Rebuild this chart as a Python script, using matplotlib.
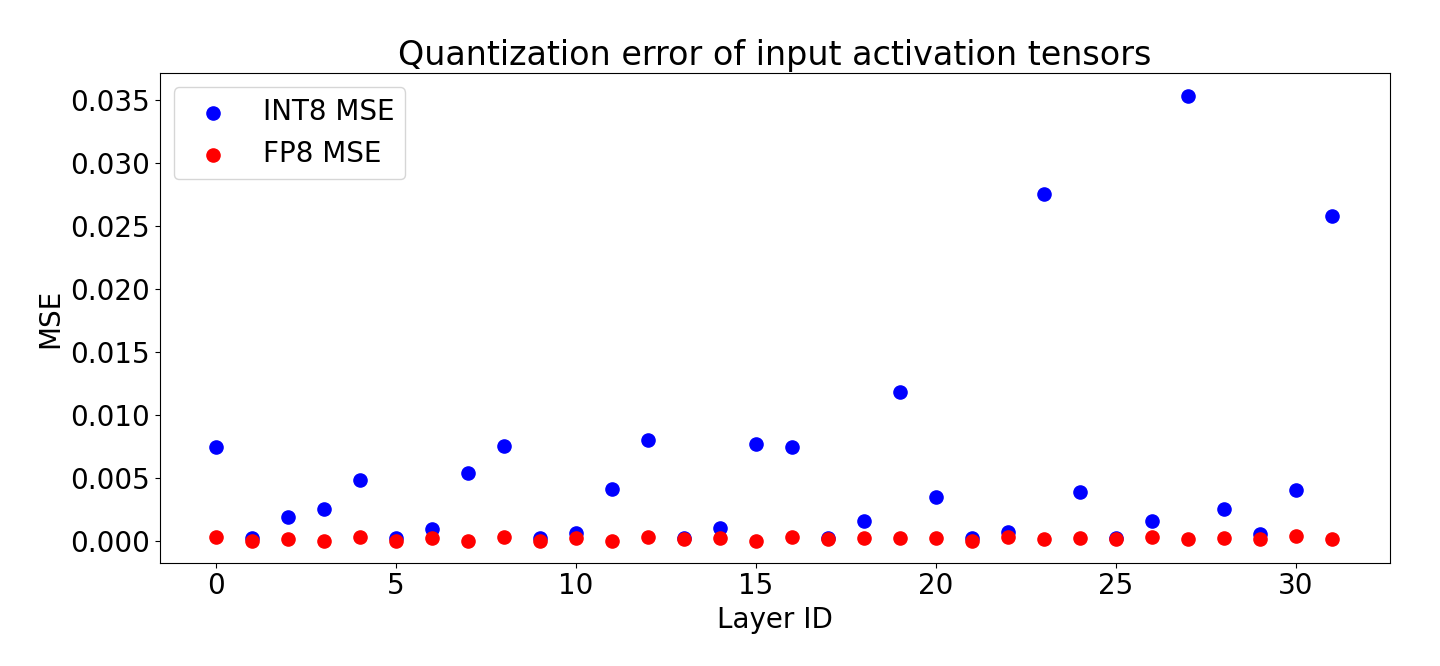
import numpy as np
import matplotlib
matplotlib.use('Agg')
import matplotlib.pyplot as plt

layer_ids = list(range(32))
int8_mse = [0.0074, 0.0002, 0.0019, 0.0025, 0.0048, 0.0002, 0.0009, 0.0054,
            0.0075, 0.0002, 0.0006, 0.0041, 0.0080, 0.0002, 0.0010, 0.0077,
            0.0074, 0.0002, 0.0016, 0.0118, 0.0035, 0.0002, 0.0007, 0.0275,
            0.0039, 0.0002, 0.0016, 0.0353, 0.0025, 0.0005, 0.0040, 0.0258]
fp8_mse = [0.0003, 0.0000, 0.0001, 0.0000, 0.0003, 0.0000, 0.0002, 0.0000,
           0.0003, 0.0000, 0.0002, 0.0000, 0.0003, 0.0001, 0.0002, 0.0000,
           0.0003, 0.0001, 0.0002, 0.0002, 0.0002, 0.0000, 0.0003, 0.0001,
           0.0002, 0.0001, 0.0003, 0.0001, 0.0002, 0.0001, 0.0004, 0.0001]

fig = plt.figure(figsize=(14.4, 6.66), dpi=100)
ax = fig.add_axes([0.111, 0.155, 0.854, 0.735])

ax.scatter(layer_ids, int8_mse, s=90, color='blue', label='INT8 MSE')
ax.scatter(layer_ids, fp8_mse, s=90, color='red', label='FP8 MSE')

ax.set_xlim(-1.55, 32.6)
ax.set_ylim(-0.00175, 0.0371)
ax.set_yticks(np.arange(0, 0.0351, 0.005))
ax.tick_params(labelsize=20)
ax.set_title('Quantization error of input activation tensors', fontsize=24)
ax.set_xlabel('Layer ID', fontsize=20)
ax.set_ylabel('MSE', fontsize=20)
ax.legend(fontsize=20, loc='upper left')

fig.savefig('out.png', dpi=100)
